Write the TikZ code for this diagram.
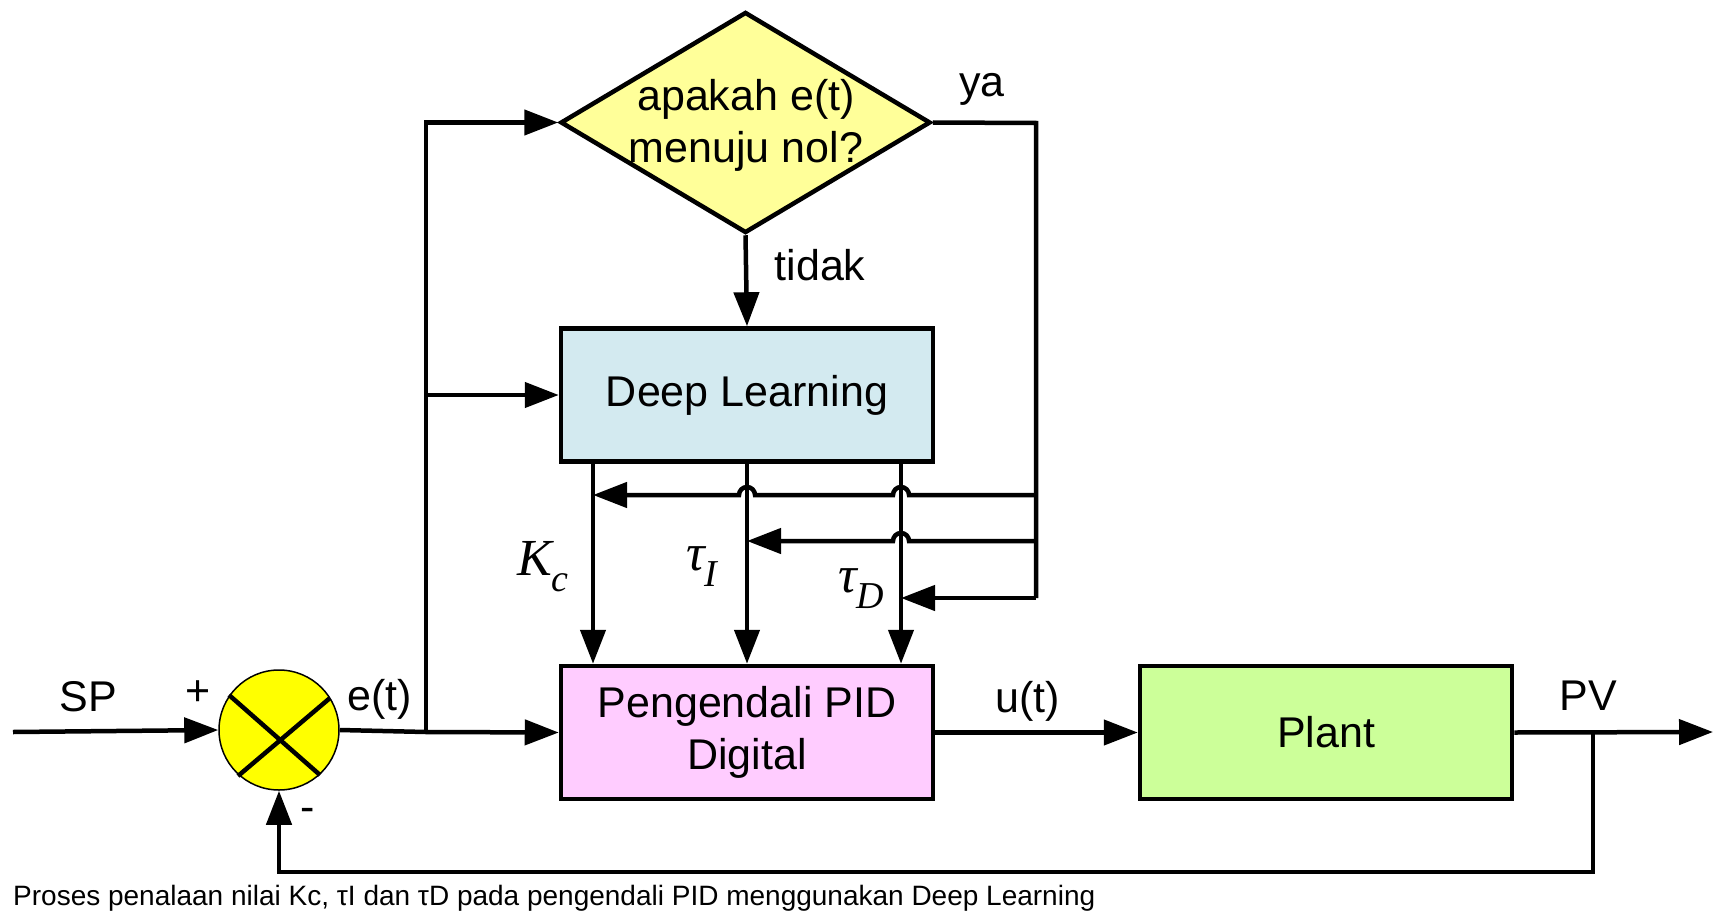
\documentclass[tikz,border=0pt]{standalone}
\usepackage{fontspec}
\setmainfont{Liberation Sans}
\newfontfamily\serifit{Liberation Serif}
\usetikzlibrary{arrows.meta,shapes.geometric}
\definecolor{diayel}{HTML}{FFFF99}
\definecolor{dlblue}{HTML}{D3EAF0}
\definecolor{pidpink}{HTML}{FFCCFF}
\definecolor{plantgreen}{HTML}{CCFF99}
\definecolor{sumyel}{HTML}{FFFF00}
\newcommand{\subsc}[1]{\raisebox{-0.32em}{\fontsize{38}{38}\selectfont #1}}
\begin{document}
\begin{tikzpicture}[x=1pt,y=-1pt,
  every node/.style={font=\fontsize{43}{52}\selectfont},
  blockbox/.style={draw,line width=4.5pt,minimum width=372pt,minimum height=133pt,inner sep=0pt,align=center},
  decbox/.style={draw,line width=4.5pt,diamond,aspect=1.68,minimum width=370pt,minimum height=221pt,inner sep=0pt,fill=diayel},
  sumnode/.style={draw,circle,line width=1.5pt,fill=sumyel,minimum size=120pt,inner sep=0pt},
  arr/.style={line width=4.5pt,-{Triangle[length=34pt,width=25pt]}},
  wire/.style={line width=4.5pt},
  lab/.style={inner sep=0pt},
  mlab/.style={inner sep=0pt,font=\serifit\itshape\fontsize{52}{52}\selectfont}]
\useasboundingbox (0,0) rectangle (1720,912);

% blocks
\node[decbox] (dec) at (745.5,122.5) {};
\node[lab,align=center] (dectext) at (746,125) {apakah e(t)\\menuju nol?};
\node[blockbox,fill=dlblue] (dl) at (747,395) {Deep Learning};
\node[blockbox,fill=pidpink] (pid) at (747,732.5) {Pengendali PID\\Digital};
\node[blockbox,fill=plantgreen] (plant) at (1326,732.5) {Plant};
\node[sumnode] (sum) at (279,730) {};
\draw[line width=4.5pt] ([shift={(-50,-35)}]sum.center) -- ([shift={(41,45)}]sum.center);
\draw[line width=4.5pt] ([shift={(51,-32)}]sum.center) -- ([shift={(-41,46)}]sum.center);

% coordinates
\coordinate (spin) at (13,732);
\coordinate (ej) at (426,732);
\coordinate (ry) at (1036,123);
\coordinate (rb) at (1036,598);
\coordinate (h1) at (1036,495);
\coordinate (h2) at (1036,541);
\coordinate (kcx) at (593,0);
\coordinate (tix) at (747,0);
\coordinate (tdx) at (901,0);
\coordinate (pvj) at (1593,732);
\coordinate (pvb) at (1593,872);
\coordinate (out) at (1713,732);

% main path
\draw[arr] (spin) -- (sum.west);
\draw[wire] (sum.east) -- (ej);
\draw[arr] (ej) -- (pid.west);
\draw[arr] (ej) |- (dec.west);
\draw[arr] (ej |- dl.west) -- (dl.west);
\draw[arr] (pid.east) -- (plant.west);
\draw[arr] (plant.east) -- (out);
\draw[arr] (pvj) -- (pvb) -| (sum.south);

% decision
\draw[arr] (dec.south) -- (dl.north);
\draw[wire] (dec.east) -- (ry) -- (rb);

% parameter lines
\draw[arr] (dl.south -| kcx) -- (pid.north -| kcx);
\draw[arr] (dl.south -| tix) -- (pid.north -| tix);
\draw[arr] (dl.south -| tdx) -- (pid.north -| tdx);

\draw[arr] (h1) -- (909,495) arc[start angle=0,end angle=-180,radius=8]
  -- (755,495) arc[start angle=0,end angle=-180,radius=8] -- (h1 -| kcx);
\draw[arr] (h2) -- (909,541) arc[start angle=0,end angle=-180,radius=8] -- (h2 -| tix);
\draw[arr] (rb) -- (rb -| tdx);

% labels
\node[lab,anchor=base] (lsp) at (88,711) {SP};
\node[lab] (lplus) at (198,693) {+};
\node[lab,anchor=base] (let) at (380,710) {e(t)};
\node[lab] (lminus) at (308,815) {-};
\node[lab,anchor=base] (lut) at (1028,712) {u(t)};
\node[lab,anchor=base] (lpv) at (1588,710) {PV};
\node[lab,anchor=base] (lya) at (982,97) {ya};
\node[lab,anchor=base] (ltidak) at (820,280) {tidak};
\node[mlab,anchor=base west] (lkc) at (517,575) {K\subsc{c}};
\node[mlab,anchor=base west] (lti) at (686,570) {τ\subsc{I}};
\node[mlab,anchor=base west] (ltd) at (838,592) {τ\subsc{D}};
\node[lab,anchor=base west,font=\fontsize{28}{30}\selectfont] (cap) at (13,905) {Proses penalaan nilai Kc, τI dan τD pada pengendali PID menggunakan Deep Learning};
\end{tikzpicture}
\end{document}
